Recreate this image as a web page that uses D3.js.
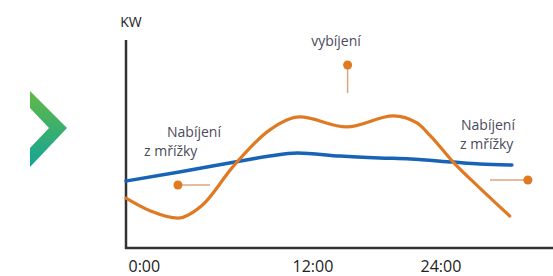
<!DOCTYPE html>
<html>
<head>
<meta charset="utf-8">
<script src="https://cdn.jsdelivr.net/npm/d3@7"></script>
<style>
  html, body { margin: 0; padding: 0; background: #fff; }
  svg { display: block; font-family: "Open Sans", "Noto Sans", sans-serif; }
</style>
</head>
<body>
<svg id="chart"></svg>
<script>
// hours on x, kW on y
const tickHours = [0, 12, 24];
const tickLabels = ["0:00", "12:00", "24:00"];

const gridHours = [0, 3.9, 8.8, 10.5, 12.7, 16.7, 20.4, 23.3, 27.3, 29.8, 32.8];
const gridKw = [3.22, 3.65, 4.23, 4.42, 4.57, 4.42, 4.33, 4.28, 4.13, 4.04, 3.99];

const batteryHours = [0, 1.8, 3.8, 5.6, 7.8, 10.5, 12.9, 17.3, 21.7, 23.9, 25.1, 27.3, 29.8, 32.6];
const batteryKw = [2.40, 1.78, 1.44, 2.07, 3.89, 5.67, 6.30, 5.82, 6.35, 6.01, 5.43, 4.13, 2.88, 1.54];

// pin markers: dot position and where the thin stem ends
const pinNames = ["left", "top", "right"];
const pinDotHour = [3.8, 17.4, 34.3];
const pinDotKw = [3.03, 8.8, 3.27];
const pinEndHour = [6.15, 17.4, 30.75];
const pinEndKw = [3.03, 7.45, 3.27];

const width = 553, height = 276;
const svg = d3.select("#chart").attr("width", width).attr("height", height);

const x = d3.scaleLinear().domain([0, 12, 24]).range([126, 290, 418]);
const y = d3.scaleLinear().domain([0, 10]).range([248, 40]);

// chevron logo
const grad = svg.append("defs").append("linearGradient")
  .attr("id", "chev").attr("x1", 0).attr("y1", 0).attr("x2", 0).attr("y2", 1);
grad.append("stop").attr("offset", "0%").attr("stop-color", "#62b946");
grad.append("stop").attr("offset", "100%").attr("stop-color", "#12a596");
svg.append("polygon")
  .attr("points", "30,91 67,128 30,167 30,148 49,128 30,108")
  .attr("fill", "url(#chev)");

// axes
svg.append("line")
  .attr("x1", x(0)).attr("x2", x(0))
  .attr("y1", 40).attr("y2", y(0) + 1)
  .attr("stroke", "#333").attr("stroke-width", 2.5);
svg.append("line")
  .attr("x1", x(0) - 1).attr("x2", width)
  .attr("y1", y(0)).attr("y2", y(0))
  .attr("stroke", "#333").attr("stroke-width", 2.5);

const xAxis = d3.axisBottom(x)
  .tickValues(tickHours)
  .tickSize(0)
  .tickFormat((d, i) => tickLabels[i]);
const gx = svg.append("g").attr("transform", `translate(0,${y(0)})`).call(xAxis);
gx.select(".domain").remove();
gx.selectAll("text")
  .attr("text-anchor", "start")
  .attr("x", 2)
  .attr("y", 24)
  .attr("dy", 0)
  .attr("fill", "#222")
  .style("font-size", "16px")
  .style("font-family", "'Open Sans', sans-serif");

svg.append("text")
  .attr("x", x(0) + 5).attr("y", 27)
  .attr("text-anchor", "middle")
  .attr("fill", "#222")
  .style("font-size", "14px")
  .text("KW");

// series
const line = d3.line().x(d => x(d[0])).y(d => y(d[1])).curve(d3.curveMonotoneX);

svg.append("path")
  .datum(gridHours.map((h, i) => [h, gridKw[i]]))
  .attr("fill", "none")
  .attr("stroke", "#1763b5")
  .attr("stroke-width", 3.5)
  .attr("stroke-linecap", "round")
  .attr("d", line);

svg.append("path")
  .datum(batteryHours.map((h, i) => [h, batteryKw[i]]))
  .attr("fill", "none")
  .attr("stroke", "#e07a22")
  .attr("stroke-width", 3.2)
  .attr("stroke-linecap", "round")
  .attr("d", line);

// pins
pinNames.forEach((n, i) => {
  svg.append("line")
    .attr("x1", x(pinDotHour[i])).attr("y1", y(pinDotKw[i]))
    .attr("x2", x(pinEndHour[i])).attr("y2", y(pinEndKw[i]))
    .attr("stroke", "#dba67c").attr("stroke-width", 1.5);
  svg.append("circle")
    .attr("cx", x(pinDotHour[i])).attr("cy", y(pinDotKw[i]))
    .attr("r", 4.5)
    .attr("fill", "#e07a22");
});

// labels
const labelStyle = sel => sel.attr("fill", "#4b4b5b").style("font-size", "14px");
svg.append("text").attr("x", 167).attr("y", 137).call(labelStyle).text("Nabíjení");
svg.append("text").attr("x", 144).attr("y", 156).call(labelStyle).text("z mřížky");
svg.append("text").attr("x", 336).attr("y", 46).attr("text-anchor", "middle").call(labelStyle).text("vybíjení");
svg.append("text").attr("x", 461).attr("y", 130).call(labelStyle).text("Nabíjení");
svg.append("text").attr("x", 460).attr("y", 149).call(labelStyle).text("z mřížky");
</script>
</body>
</html>
